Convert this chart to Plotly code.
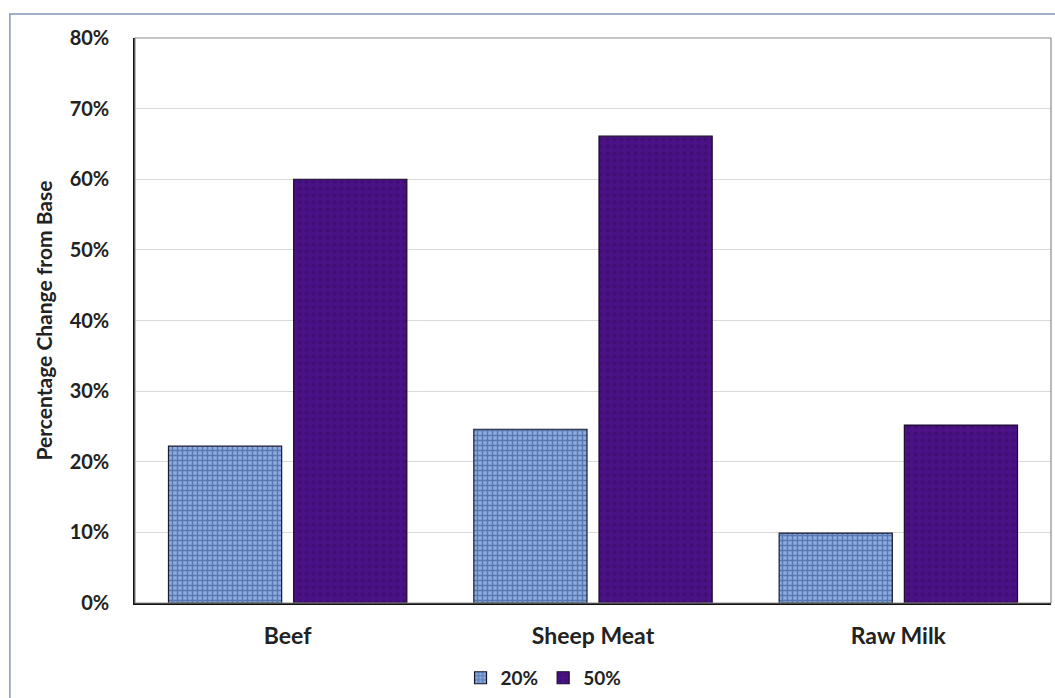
import plotly.graph_objects as go

# Percentage change from base by commodity and scenario
categories = ["Beef", "Sheep Meat", "Raw Milk"]
series_names = ["20%", "50%"]
values_20 = [22.2, 24.6, 9.9]
values_50 = [60.0, 66.1, 25.2]
y_ticks = [0, 10, 20, 30, 40, 50, 60, 70, 80]
y_tick_labels = [f"{t}%" for t in y_ticks]

FONT = "Lato, 'Open Sans', sans-serif"

fig = go.Figure()

fig.add_trace(go.Bar(
    name=series_names[0],
    x=categories,
    y=values_20,
    marker=dict(
        color="#7f9fd6",
        line=dict(color="#1a1a2e", width=1.2),
        pattern=dict(shape="+", fgcolor="#27467f", bgcolor="#8cabe0",
                     size=5, solidity=0.5, fillmode="overlay"),
    ),
))

fig.add_trace(go.Bar(
    name=series_names[1],
    x=categories,
    y=values_50,
    marker=dict(
        color="#4a1283",
        line=dict(color="#1a0a2a", width=1.2),
        pattern=dict(shape=".", fgcolor="#380a66", bgcolor="#4b1287",
                     size=7, solidity=0.35, fillmode="overlay"),
    ),
))

# Outer chart border and plot-area frame
fig.add_shape(type="rect", xref="paper", yref="paper",
              x0=-0.1366, x1=1.02, y0=-0.2, y1=1.0425,
              line=dict(color="#8196b8", width=1.5), fillcolor="rgba(0,0,0,0)",
              layer="below")
fig.add_shape(type="rect", xref="paper", yref="paper",
              x0=0, x1=1, y0=0, y1=1,
              line=dict(color="#8c8c8c", width=1.2), fillcolor="rgba(0,0,0,0)",
              layer="above")

fig.update_layout(
    width=1055, height=698,
    margin=dict(l=135, r=4, t=38, b=95, autoexpand=False),
    paper_bgcolor="white",
    plot_bgcolor="white",
    barmode="group",
    bargap=0.18,
    bargroupgap=0.096,
    font=dict(family=FONT, color="#222222"),
    showlegend=True,
    legend=dict(orientation="h", x=0.446, xanchor="center",
                yref="container", y=0.056, yanchor="top",
                font=dict(family=FONT, size=19, color="#222222", weight="bold"),
                itemwidth=30, traceorder="normal", bgcolor="rgba(0,0,0,0)"),
    xaxis=dict(
        showline=True, linecolor="#111111", linewidth=1.5,
        ticks="", tickfont=dict(family=FONT, size=23, color="#222222", weight="bold"),
        ticklabelstandoff=12,
    ),
    yaxis=dict(
        range=[0, 80], tickvals=y_ticks, ticktext=y_tick_labels,
        showline=True, linecolor="#111111", linewidth=1.5,
        showgrid=True, gridcolor="#d9d9d9", gridwidth=1.2,
        ticks="", tickfont=dict(family=FONT, size=20, color="#222222", weight="bold"),
        ticklabelstandoff=20,
        title=dict(text="Percentage Change from Base", standoff=11,
                   font=dict(family=FONT, size=21, color="#222222", weight="bold")),
        zeroline=False,
    ),
)

fig.write_html("out.html")
